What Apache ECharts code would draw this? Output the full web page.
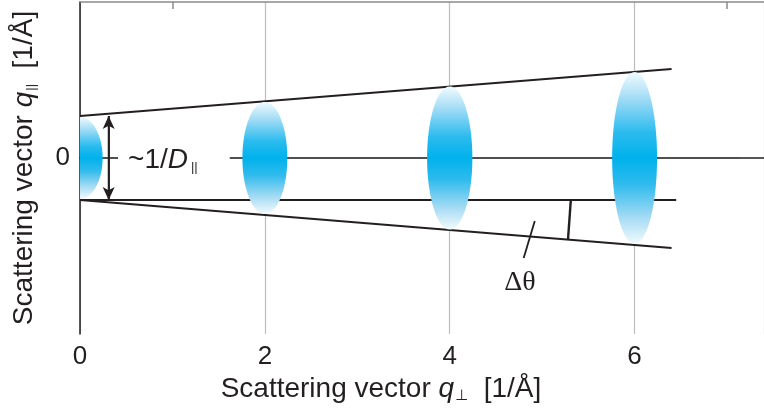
<!DOCTYPE html>
<html>
<head>
<meta charset="utf-8">
<script src="https://cdn.jsdelivr.net/npm/echarts@6/dist/echarts.min.js"></script>
<style>
html,body{margin:0;padding:0;background:#fff;}
#chart{width:764px;height:414px;}
</style>
</head>
<body>
<div id="chart"></div>
<script>
// ---- data ----
const xTickLabels = [0, 2, 4, 6];
const yTickLabels = [0];
const topTicks = [1, 7];
const blobX = [0, 2, 4, 6];
const blobHalfHeight = [0.41, 0.56, 0.715, 0.86];
const blobHalfWidth = [0.245, 0.243, 0.245, 0.243];
const upperLine = [[0, 0.42], [6.4, 0.89]];
const lowerLine = [[0, -0.42], [6.4, -0.90]];
const baseLine = [[0, -0.42], [6.45, -0.42]];
const zeroLine = [[0, 0], [7.14, 0]];
const arrowLine = [[0.31, 0.42], [0.31, -0.42]];
const angleMarker = [[5.31, -0.42], [5.28, -0.81]];
const pointerLine = [[4.92, -0.63], [4.80, -1.00]];
const labelD = [[0.52, -0.02]];
const labelTheta = [[4.76, -1.25]];

const ink = '#231f20';
const sans = '"Liberation Sans", Arial, "DejaVu Sans", sans-serif';

const blobFill = {
  type: 'linear', x: 0, y: 0, x2: 0, y2: 1,
  colorStops: [
    {offset: 0, color: '#f2fbfe'},
    {offset: 0.15, color: '#a6dcf5'},
    {offset: 0.35, color: '#2dbbee'},
    {offset: 0.5, color: '#00b1ec'},
    {offset: 0.65, color: '#2dbbee'},
    {offset: 0.85, color: '#a6dcf5'},
    {offset: 1, color: '#f2fbfe'}
  ]
};

function seg(data, w, color, z) {
  return {
    type: 'line', data: data, symbol: 'none', silent: true, z: z || 3,
    lineStyle: {color: color || ink, width: w || 1.8}, animation: false
  };
}

const chart = echarts.init(document.getElementById('chart'), null, {renderer: 'canvas'});
chart.setOption({
  animation: false,
  backgroundColor: '#fff',
  grid: {left: 80, right: 0, top: 2, bottom: 80},
  xAxis: [{
    type: 'value', min: 0, max: 7.4, interval: 2,
    name: 'Scattering vector {i|q}{s|⊥}  [1/Å]',
    nameLocation: 'middle', nameGap: 40,
    nameTextStyle: {
      color: ink, fontFamily: sans, fontSize: 28, padding: [0, 82, 0, 0],
      rich: {
        i: {fontStyle: 'italic', fontFamily: sans, fontSize: 28, color: ink},
        s: {fontFamily: '"DejaVu Sans", sans-serif', fontSize: 15, color: ink, padding: [14, 0, 0, 1]}
      }
    },
    axisLine: {show: true, lineStyle: {color: ink, width: 1.5}},
    axisTick: {show: false},
    axisLabel: {color: ink, fontFamily: sans, fontSize: 26, margin: 10, customValues: xTickLabels},
    splitLine: {show: true, lineStyle: {color: '#bdbdbd', width: 1.2}}
  }, {
    type: 'value', min: 0, max: 7.4, position: 'top',
    axisLine: {show: true, onZero: false, lineStyle: {color: '#8a8a8a', width: 1.5}},
    axisTick: {show: true, inside: true, length: 7, customValues: topTicks, lineStyle: {color: '#8a8a8a', width: 1.5}},
    axisLabel: {show: false},
    splitLine: {show: false}
  }],
  yAxis: {
    type: 'value', min: -1.76, max: 1.56,
    name: 'Scattering vector {i|q}{s|||}  [1/Å]',
    nameLocation: 'middle', nameGap: 42, nameRotate: 90,
    nameTextStyle: {
      color: ink, fontFamily: sans, fontSize: 28,
      rich: {
        i: {fontStyle: 'italic', fontFamily: sans, fontSize: 28, color: ink},
        s: {fontFamily: sans, fontSize: 13, color: ink, padding: [14, 0, 0, 1]}
      }
    },
    axisLine: {show: true, onZero: false, lineStyle: {color: ink, width: 1.5}},
    axisTick: {show: false},
    axisLabel: {color: ink, fontFamily: sans, fontSize: 26, margin: 10, customValues: yTickLabels},
    splitLine: {show: false}
  },
  series: [
    seg(zeroLine, 1.2, '#4a4a4a', 2),
    seg(upperLine, 1.8),
    seg(lowerLine, 1.8),
    seg(baseLine, 1.8),
    seg(angleMarker, 2.4),
    seg(pointerLine, 1.8),
    {
      type: 'custom', clip: true, z: 5, silent: true,
      data: blobX.map((x, i) => [x, blobHalfHeight[i], blobHalfWidth[i]]),
      renderItem: function (params, api) {
        const x = api.value(0), h = api.value(1), w = api.value(2);
        const c = api.coord([x, 0]);
        const t = api.coord([x, h]);
        const r = api.coord([x + w, 0]);
        return {
          type: 'ellipse',
          shape: {cx: c[0], cy: c[1], rx: r[0] - c[0], ry: c[1] - t[1]},
          style: {fill: blobFill}
        };
      }
    },
    {
      type: 'line', data: arrowLine, symbol: 'none', silent: true, z: 6,
      lineStyle: {color: ink, width: 1.8},
      markLine: {
        silent: true, animation: false, symbol: ['arrow', 'arrow'], symbolSize: [9, 13],
        lineStyle: {color: ink, width: 1.8, type: 'solid'}, label: {show: false},
        data: [[{coord: arrowLine[0]}, {coord: arrowLine[1]}]]
      }
    },
    {
      type: 'scatter', data: labelD, symbolSize: 0, silent: true, z: 7,
      itemStyle: {opacity: 1},
      label: {
        show: true, position: 'inside', align: 'left', verticalAlign: 'middle',
        formatter: '{a|~1/}{d|D}{s|||}',
        backgroundColor: '#fff', padding: [2, 32, 2, 10], offset: [-10, 0],
        rich: {
          a: {fontFamily: sans, fontSize: 28, color: ink},
          d: {fontFamily: sans, fontSize: 28, fontStyle: 'italic', color: ink},
          s: {fontFamily: sans, fontSize: 13, color: ink, padding: [14, 0, 0, 3]}
        }
      }
    },
    {
      type: 'scatter', data: labelTheta, symbolSize: 0, silent: true, z: 7,
      itemStyle: {opacity: 1},
      label: {
        show: true, position: 'inside', formatter: 'Δθ',
        fontFamily: '"Liberation Serif", "Times New Roman", serif', fontSize: 28, color: ink
      }
    }
  ]
});
</script>
</body>
</html>
